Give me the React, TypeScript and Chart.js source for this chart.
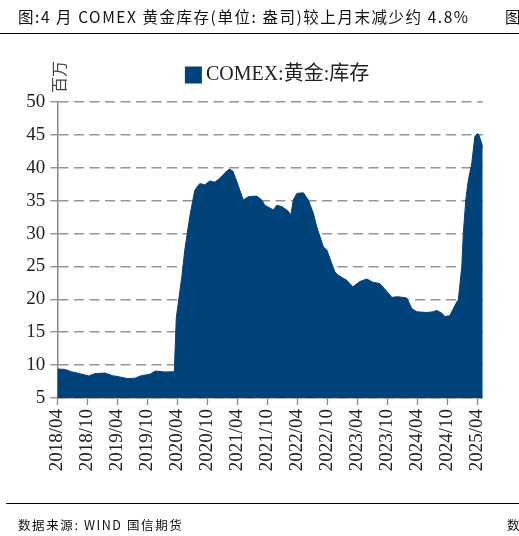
import React, { useEffect, useRef } from "react";
import { Chart, registerables } from "chart.js";

Chart.register(...registerables);

// Observation dates (yyyy/mm/dd) and COMEX gold inventory (million troy oz)
const obsDates = [
  "2018/04/01", "2018/05/16", "2018/06/25", "2018/08/16", "2018/10/10", "2018/11/16",
  "2019/01/16", "2019/03/01", "2019/04/16", "2019/06/01", "2019/07/16", "2019/08/25",
  "2019/10/16", "2019/11/19", "2020/01/16", "2020/03/13", "2020/03/25", "2020/04/28",
  "2020/05/16", "2020/06/16", "2020/07/16", "2020/08/16", "2020/09/16", "2020/10/16",
  "2020/11/16", "2020/12/16", "2021/01/16", "2021/02/13", "2021/03/04", "2021/03/28",
  "2021/04/16", "2021/05/07", "2021/06/07", "2021/07/28", "2021/08/28", "2021/09/16",
  "2021/10/16", "2021/11/07", "2021/11/28", "2021/12/28", "2022/02/07", "2022/02/22",
  "2022/03/07", "2022/03/28", "2022/05/07", "2022/06/07", "2022/07/07", "2022/07/28",
  "2022/09/07", "2022/09/28", "2022/11/16", "2022/12/04", "2023/01/28", "2023/03/04",
  "2023/04/16", "2023/05/28", "2023/07/04", "2023/08/16", "2023/09/28", "2023/10/28",
  "2023/12/04", "2024/01/28", "2024/02/28", "2024/03/28", "2024/05/28", "2024/07/04",
  "2024/07/28", "2024/08/28", "2024/09/16", "2024/10/16", "2024/11/04", "2024/11/28",
  "2024/12/07", "2024/12/28", "2025/01/07", "2025/01/22", "2025/02/07", "2025/02/28",
  "2025/03/07", "2025/03/16", "2025/04/01", "2025/04/10", "2025/04/28", "2025/05/04",
];

const inventory = [
  9.4, 9.35, 9.0, 8.7, 8.35, 8.7,
  8.8, 8.4, 8.2, 7.95, 8.0, 8.4,
  8.6, 9.1, 8.95, 9.0, 17.2, 23.4,
  27.5, 32.6, 36.6, 37.6, 37.4, 38.0,
  37.8, 38.4, 39.2, 39.8, 39.5, 37.9,
  36.6, 35.1, 35.6, 35.7, 35.1, 34.3,
  33.9, 33.6, 34.3, 34.1, 33.4, 32.8,
  35.1, 36.1, 36.2, 35.1, 33.1, 31.0,
  28.0, 27.5, 24.2, 23.7, 22.9, 21.9,
  22.7, 23.1, 22.6, 22.4, 21.2, 20.3,
  20.4, 20.2, 18.6, 18.1, 18.0, 18.1,
  18.3, 17.9, 17.4, 17.5, 18.4, 19.6,
  19.9, 25.0, 30.0, 35.1, 38.1, 40.7,
  42.7, 44.7, 45.2, 45.0, 43.7, 43.0,
];

const tickLabels = [
  "2018/04", "2018/10", "2019/04", "2019/10", "2020/04", "2020/10", "2021/04",
  "2021/10", "2022/04", "2022/10", "2023/04", "2023/10", "2024/04", "2024/10", "2025/04",
];

const seriesLabel = "COMEX:黄金:库存";
const yUnit = "百万";
const titleText = "图:4 月 COMEX 黄金库存(单位: 盎司)较上月末减少约 4.8%";
const sourceText = "数据来源: WIND 国信期货";

const AREA_COLOR = "#00427A";
const SERIF = "'Liberation Serif', 'Noto Sans CJK SC', serif";

function monthIndex(s: string): number {
  const parts = s.split("/").map(Number);
  const y = parts[0];
  const m = parts[1];
  const d = parts.length > 2 ? parts[2] : 1;
  return (y - 2018) * 12 + (m - 4) + (d - 1) / 30;
}

const legendPlugin = {
  id: "topLegendAndUnit",
  afterDraw(chart: any) {
    const { ctx, chartArea } = chart;
    const ds = chart.data.datasets[0];
    ctx.save();
    // legend
    ctx.font = `20px ${SERIF}`;
    const tw = ctx.measureText(ds.label).width;
    const box = 17;
    const gap = 4;
    const total = box + gap + tw;
    const cx = (chartArea.left + chartArea.right) / 2 + 7;
    const cy = chartArea.top - 27;
    const x0 = cx - total / 2;
    ctx.fillStyle = ds.backgroundColor;
    ctx.fillRect(x0, cy - box / 2, box, box);
    ctx.fillStyle = "#222";
    ctx.textBaseline = "middle";
    ctx.textAlign = "left";
    ctx.fillText(ds.label, x0 + box + gap, cy);
    // unit label (rotated)
    ctx.translate(chartArea.left + 2, chartArea.top - 25);
    ctx.rotate(-Math.PI / 2);
    ctx.font = `16px 'Noto Sans CJK SC', serif`;
    ctx.textAlign = "center";
    ctx.textBaseline = "middle";
    ctx.fillStyle = "#444";
    ctx.fillText(yUnit, 0, 0);
    ctx.restore();
  },
};

function ChartCanvas() {
  const ref = useRef<HTMLCanvasElement | null>(null);
  useEffect(() => {
    if (!ref.current) return;
    const points = obsDates.map((d, i) => ({ x: monthIndex(d), y: inventory[i] }));
    const tickValues = tickLabels.map((l) => monthIndex(l));
    const xMax = points[points.length - 1].x;
    const chart = new Chart(ref.current, {
      type: "line",
      data: {
        datasets: [
          {
            label: seriesLabel,
            data: points,
            fill: "start",
            backgroundColor: AREA_COLOR,
            borderColor: AREA_COLOR,
            borderWidth: 1,
            pointRadius: 0,
            tension: 0,
          },
        ],
      },
      options: {
        animation: false,
        responsive: false,
        layout: { padding: { top: 102, right: 519 - 57.3 - 5 * xMax, left: 0, bottom: 0 } },
        plugins: { legend: { display: false }, tooltip: { enabled: false } },
        scales: {
          x: {
            type: "linear",
            min: 0,
            max: xMax,
            afterBuildTicks: (scale: any) => {
              scale.ticks = tickValues.map((v) => ({ value: v }));
            },
            afterFit: (scale: any) => {
              scale.height = 138;
            },
            ticks: {
              autoSkip: false,
              maxRotation: 90,
              minRotation: 90,
              padding: 4,
              color: "#222",
              font: { family: SERIF, size: 19 },
              callback: (v: any) => {
                const i = tickValues.findIndex((t) => Math.abs(t - v) < 1e-6);
                return i >= 0 ? tickLabels[i] : "";
              },
            },
            grid: {
              drawOnChartArea: false,
              drawTicks: true,
              tickLength: 7,
              tickColor: "#888",
              tickWidth: 1.3,
            },
            border: { display: true, color: "#888", width: 1.5 },
          },
          y: {
            min: 5,
            max: 50,
            afterFit: (scale: any) => {
              scale.width = 57.3;
            },
            ticks: {
              stepSize: 5,
              padding: 5,
              color: "#222",
              font: { family: SERIF, size: 19 },
            },
            grid: {
              color: "#959595",
              lineWidth: 1.5,
              tickLength: 7,
              tickColor: "#888",
              tickWidth: 1.3,
              tickBorderDash: [],
            },
            border: { display: true, color: "#888", width: 1.5, dash: [10, 5.5] },
          },
        },
      },
      plugins: [legendPlugin],
    } as any);
    return () => chart.destroy();
  }, []);
  return (
    <canvas
      ref={ref}
      width={519}
      height={536}
      style={{ position: "absolute", left: 0, top: 0, width: 519, height: 536 }}
    />
  );
}

export default function App() {
  const cjk = "'Noto Sans CJK SC', sans-serif";
  return (
    <div
      style={{
        position: "absolute",
        left: 0,
        top: 0,
        width: 519,
        height: 536,
        overflow: "hidden",
        background: "#fff",
      }}
    >
      <ChartCanvas />
      <div
        style={{
          position: "absolute",
          left: 18,
          top: 5,
          fontFamily: cjk,
          fontSize: 15.5,
          letterSpacing: 1.55,
          whiteSpace: "nowrap",
          color: "#111",
        }}
      >
        {titleText}
      </div>
      <div
        style={{
          position: "absolute",
          left: 505,
          top: 5,
          fontFamily: cjk,
          fontSize: 15.5,
          whiteSpace: "nowrap",
          color: "#111",
        }}
      >
        图
      </div>
      <div style={{ position: "absolute", left: 0, top: 33, width: 519, height: 1, background: "#000" }} />
      <div style={{ position: "absolute", left: 6, top: 503, width: 513, height: 1, background: "#000" }} />
      <div
        style={{
          position: "absolute",
          left: 18,
          top: 515,
          fontFamily: cjk,
          fontSize: 12.5,
          letterSpacing: 1.6,
          whiteSpace: "nowrap",
          color: "#111",
        }}
      >
        {sourceText}
      </div>
      <div
        style={{
          position: "absolute",
          left: 507,
          top: 515,
          fontFamily: cjk,
          fontSize: 12.5,
          whiteSpace: "nowrap",
          color: "#111",
        }}
      >
        数
      </div>
    </div>
  );
}
